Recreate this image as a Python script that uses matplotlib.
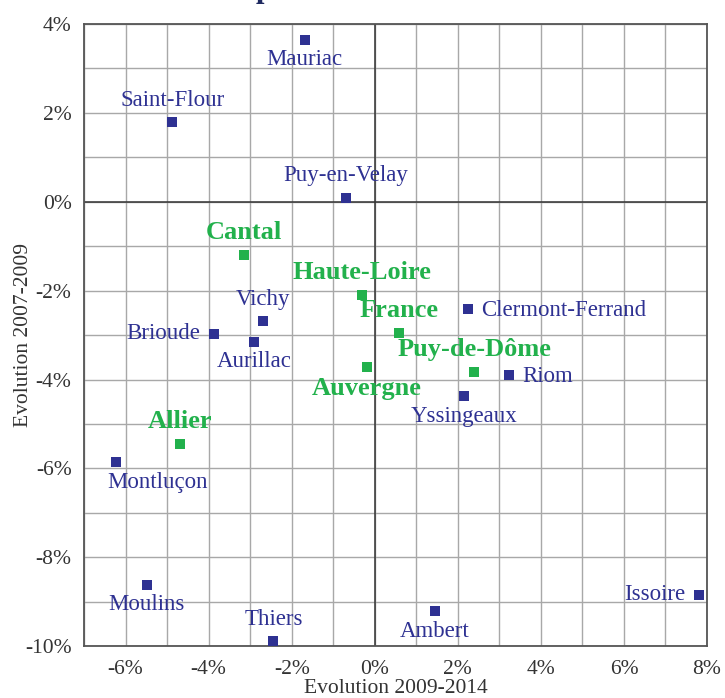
import matplotlib
matplotlib.use("Agg")
import matplotlib.pyplot as plt

# Evolution 2009-2014 (x) vs Evolution 2007-2009 (y), in %
cities = ["Mauriac", "Saint-Flour", "Puy-en-Velay", "Vichy", "Brioude", "Aurillac",
          "Clermont-Ferrand", "Riom", "Yssingeaux", "Montluçon", "Moulins",
          "Thiers", "Ambert", "Issoire"]
city_x = [-1.69, -4.87, -0.70, -2.70, -3.86, -2.90, 2.25, 3.24, 2.16, -6.24, -5.49,
          -2.44, 1.45, 7.80]
city_y = [3.64, 1.79, 0.09, -2.68, -2.97, -3.15, -2.42, -3.90, -4.37, -5.85, -8.61,
          -9.88, -9.20, -8.84]
city_pos = ["below", "above", "above", "above", "left", "below", "right", "right",
            "below", "below_left", "below", "above", "below", "left"]

areas = ["Cantal", "Haute-Loire", "France", "Puy-de-Dôme", "Auvergne", "Allier"]
area_x = [-3.14, -0.30, 0.59, 2.40, -0.19, -4.68]
area_y = [-1.20, -2.10, -2.96, -3.84, -3.73, -5.46]
area_pos = ["above", "above", "above", "above", "below", "above"]

x_ticks = [-6, -4, -2, 0, 2, 4, 6, 8]
x_labels = ["-6%", "-4%", "-2%", "0%", "2%", "4%", "6%", "8%"]
y_ticks = [-10, -8, -6, -4, -2, 0, 2, 4]
y_labels = ["-10%", "-8%", "-6%", "-4%", "-2%", "0%", "2%", "4%"]

NAVY = "#2e3192"
GREEN = "#22b14c"
SERIF = ["Liberation Serif", "DejaVu Serif"]

plt.rcParams["font.family"] = SERIF

fig = plt.figure(figsize=(7.25, 6.98), dpi=100)
ax = fig.add_axes([0.1159, 0.0738, 0.8593, 0.8925])

ax.set_xlim(-7, 8)
ax.set_ylim(-10, 4)
ax.set_xticks(range(-7, 9), minor=True)
ax.set_yticks(range(-10, 5), minor=True)
ax.set_xticks(x_ticks)
ax.set_xticklabels(x_labels)
ax.set_yticks(y_ticks)
ax.set_yticklabels(y_labels)
ax.grid(True, which="both", color="#a8a8a8", lw=1.0, zorder=0)
ax.set_axisbelow(True)
ax.axhline(0, color="#333333", lw=1.1, zorder=1)
ax.axvline(0, color="#333333", lw=1.1, zorder=1)
for s in ax.spines.values():
    s.set_color("#555555")
    s.set_linewidth(1.3)
ax.tick_params(which="both", direction="in", length=0, colors="#333333",
               labelsize=15.5)
ax.tick_params(axis="x", pad=10)
ax.tick_params(axis="y", pad=9)
ax.set_xlabel("Evolution 2009-2014", fontsize=15.5, color="#333333", va="center")
ax.set_ylabel("Evolution 2007-2009", fontsize=15.5, color="#333333", va="center")
ax.xaxis.set_label_coords(0.5, -0.067)
ax.yaxis.set_label_coords(-0.097, 0.5)

ax.scatter(city_x, city_y, marker="s", s=60, color=NAVY, zorder=3, linewidths=0)
ax.scatter(area_x, area_y, marker="s", s=60, color=GREEN, zorder=3, linewidths=0)

offsets = {
    "above": ((0, 8), "center", "bottom"),
    "below": ((0, -7), "center", "top"),
    "left": ((-10, 0), "right", "center"),
    "right": ((9, -1), "left", "center"),
    "below_left": ((-6, -7), "left", "top"),
}


def label(names, xs, ys, poss, color, size, weight):
    for n, x, y, p in zip(names, xs, ys, poss):
        off, ha, va = offsets[p]
        ax.annotate(n, (x, y), xytext=off, textcoords="offset points",
                    ha=ha, va=va, color=color, fontsize=size,
                    fontweight=weight, zorder=4)


label(cities, city_x, city_y, city_pos, NAVY, 16.5, "normal")
label(areas, area_x, area_y, area_pos, GREEN, 19, "bold")

# fragment of the title, cut off by the top edge
fig.text(0.364, 1.005, "p", fontsize=22, fontweight="bold", color="#1f2a60",
         ha="center", va="baseline")

fig.savefig("out.png", dpi=100)
